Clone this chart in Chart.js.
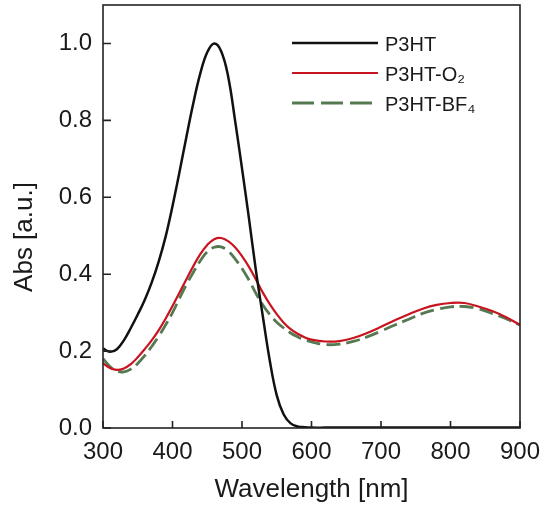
<!DOCTYPE html>
<html lang="en">
<head>
    <meta charset="UTF-8">
    <title>P3HT absorption spectra</title>
    <script src="https://cdn.jsdelivr.net/npm/chart.js"></script>
    <style>
        body {
            margin: 0;
            background: #fff;
        }
        #spectra {
            display: block;
        }
    </style>
</head>
<body>
    <canvas id="spectra" width="543" height="505"></canvas>

    <script>
        // Wavelength grid (nm) shared by all three spectra
        const wavelengths = [300, 310, 320, 330, 340, 350, 360, 370, 380, 390, 400, 410, 420, 430, 440, 450, 460, 470, 480, 490,
            500, 510, 520, 530, 540, 550, 560, 570, 580, 590, 600, 620, 640, 660, 680, 700, 720, 740, 760, 780,
            800, 820, 840, 860, 880, 900];

        // Absorbance [a.u.]
        const p3htAbs = [0.207, 0.198, 0.205, 0.228, 0.260, 0.295, 0.333, 0.378, 0.432, 0.497, 0.577, 0.665, 0.757, 0.845, 0.922, 0.977, 1.000, 0.980, 0.915, 0.800,
            0.675, 0.545, 0.410, 0.290, 0.175, 0.085, 0.035, 0.012, 0.004, 0.002, 0.001, 0.001, 0.001, 0.001, 0.001, 0.001, 0.001, 0.001, 0.001, 0.001,
            0.001, 0.001, 0.001, 0.001, 0.001, 0.001];
        const p3htO2Abs = [0.168, 0.156, 0.151, 0.155, 0.166, 0.184, 0.205, 0.228, 0.254, 0.284, 0.317, 0.352, 0.387, 0.421, 0.452, 0.476, 0.491, 0.494, 0.486, 0.470,
            0.447, 0.419, 0.386, 0.352, 0.322, 0.296, 0.274, 0.257, 0.245, 0.236, 0.230, 0.225, 0.226, 0.234, 0.247, 0.263, 0.280, 0.296, 0.310, 0.320,
            0.325, 0.325, 0.316, 0.304, 0.288, 0.268];
        const p3htBF4Abs = [0.180, 0.160, 0.148, 0.146, 0.153, 0.168, 0.188, 0.212, 0.238, 0.268, 0.300, 0.337, 0.373, 0.405, 0.435, 0.458, 0.470, 0.471, 0.460, 0.440,
            0.415, 0.385, 0.350, 0.320, 0.295, 0.275, 0.260, 0.247, 0.237, 0.229, 0.224, 0.217, 0.218, 0.225, 0.237, 0.252, 0.268, 0.283, 0.298, 0.308,
            0.315, 0.316, 0.310, 0.298, 0.284, 0.268];

        const seriesNames = ['P3HT', 'P3HT-O\u2082', 'P3HT-BF\u2084'];
        const seriesColors = ['#111111', '#c8141f', '#557a52'];

        const FONT = "'Liberation Sans', Arial, Helvetica, sans-serif";

        function toPoints(values) {
            return wavelengths.map((nm, i) => ({ x: nm, y: values[i] }));
        }

        // keep the plot box where the figure has it
        function noScalePadding(scale) {
            scale.paddingTop = 0;
            scale.paddingBottom = 0;
            scale.paddingLeft = 0;
            scale.paddingRight = 0;
        }

        // Frame, inward tick marks, y title and the in-plot legend
        const framePlugin = {
            id: 'frame',
            afterDatasetsDraw(chart) {
                const ctx = chart.ctx;
                const area = chart.chartArea;
                const xs = chart.scales.x;
                const ys = chart.scales.y;
                ctx.save();
                ctx.strokeStyle = '#222';
                ctx.lineWidth = 1.6;
                ctx.strokeRect(area.left, area.top, area.right - area.left, area.bottom - area.top);

                ctx.beginPath();
                xs.ticks.forEach(t => {
                    const px = xs.getPixelForValue(t.value);
                    ctx.moveTo(px, area.bottom);
                    ctx.lineTo(px, area.bottom - 7);
                });
                ys.ticks.forEach(t => {
                    const py = ys.getPixelForValue(t.value);
                    ctx.moveTo(area.left, py);
                    ctx.lineTo(area.left + 8, py);
                });
                ctx.stroke();

                // y axis title
                ctx.save();
                ctx.translate(25, area.top + 232);
                ctx.rotate(-Math.PI / 2);
                ctx.fillStyle = '#1a1a1a';
                ctx.font = '26px ' + FONT;
                ctx.textAlign = 'center';
                ctx.textBaseline = 'middle';
                ctx.fillText('Abs [a.u.]', 0, 0);
                ctx.restore();

                // legend
                const x0 = area.left + 189;
                chart.data.datasets.forEach((ds, i) => {
                    const y = area.top + 38 + i * 30;
                    ctx.beginPath();
                    ctx.strokeStyle = ds.borderColor;
                    ctx.lineWidth = ds.borderWidth;
                    ctx.setLineDash(ds.borderDash ? [22, 7] : []);
                    ctx.moveTo(x0, y);
                    ctx.lineTo(x0 + (ds.borderDash ? 80 : 86), y);
                    ctx.stroke();
                    ctx.setLineDash([]);
                    ctx.fillStyle = '#1a1a1a';
                    ctx.font = '20px ' + FONT;
                    ctx.textBaseline = 'middle';
                    ctx.fillText(ds.label, x0 + 93, y + 2);
                });
                ctx.restore();
            }
        };

        new Chart(document.getElementById('spectra'), {
            type: 'line',
            data: {
                datasets: [
                    { label: seriesNames[0], data: toPoints(p3htAbs), borderColor: seriesColors[0], borderWidth: 2.5 },
                    { label: seriesNames[1], data: toPoints(p3htO2Abs), borderColor: seriesColors[1], borderWidth: 2.2 },
                    { label: seriesNames[2], data: toPoints(p3htBF4Abs), borderColor: seriesColors[2], borderWidth: 2.8, borderDash: [14, 6] }
                ]
            },
            options: {
                responsive: false,
                animation: false,
                devicePixelRatio: 1,
                layout: { padding: { top: 5, right: 23, left: 0, bottom: 0 } },
                elements: {
                    point: { radius: 0 },
                    line: { tension: 0.4, fill: false }
                },
                plugins: {
                    legend: { display: false },
                    tooltip: { enabled: false }
                },
                scales: {
                    x: {
                        type: 'linear',
                        min: 300,
                        max: 900,
                        grid: { display: false, drawTicks: false },
                        border: { display: false },
                        ticks: { stepSize: 100, padding: 10, color: '#1a1a1a', font: { family: FONT, size: 24 } },
                        title: { display: true, text: 'Wavelength [nm]', color: '#1a1a1a', padding: { top: 0, bottom: 0 }, font: { family: FONT, size: 26 } },
                        afterFit(scale) {
                            scale.height = 77;
                            noScalePadding(scale);
                        }
                    },
                    y: {
                        min: 0,
                        max: 1.1,
                        grid: { display: false, drawTicks: false },
                        border: { display: false },
                        ticks: {
                            stepSize: 0.2,
                            padding: 11,
                            color: '#1a1a1a',
                            font: { family: FONT, size: 24 },
                            callback: v => v.toFixed(1)
                        },
                        afterBuildTicks(scale) {
                            scale.ticks = scale.ticks.filter(t => t.value <= 1.0001);
                        },
                        afterFit(scale) {
                            scale.width = 103;
                            noScalePadding(scale);
                        }
                    }
                }
            },
            plugins: [framePlugin]
        });
    </script>
</body>
</html>
